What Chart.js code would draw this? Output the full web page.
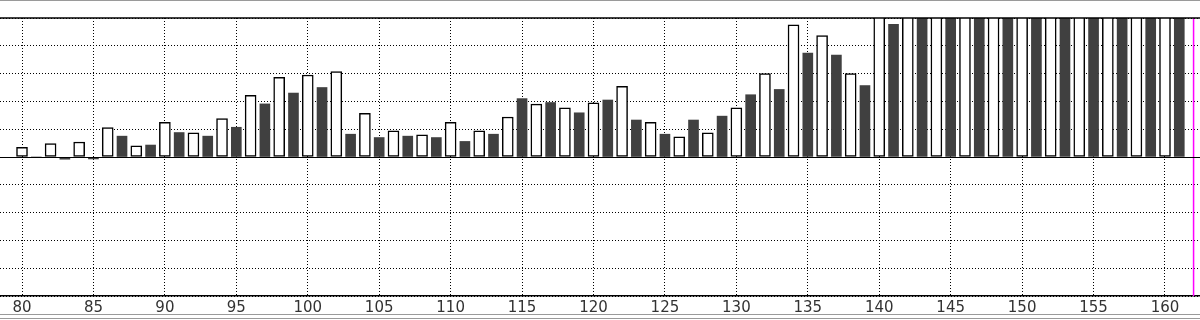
<!DOCTYPE html>
<html>
<head>
<meta charset="utf-8">
<script src="https://cdn.jsdelivr.net/npm/chart.js@4/dist/chart.umd.min.js"></script>
<style>
  body { margin: 0; background: #fff; }
  canvas { display: block; }
</style>
</head>
<body>
<canvas id="barChart" width="1200" height="320"></canvas>
<script>
// even days: white bars, odd days: dark bars
const whiteDays = [80, 82, 84, 86, 88, 90, 92, 94, 96, 98, 100, 102, 104, 106, 108, 110, 112, 114, 116, 118,
  120, 122, 124, 126, 128, 130, 132, 134, 136, 138, 140, 142, 144, 146, 148, 150, 152, 154, 156, 158, 160];
const whiteValues = [0.35, 0.48, 0.54, 1.06, 0.4, 1.25, 0.87, 1.38, 2.22, 2.87, 2.95, 3.07, 1.57, 0.94, 0.8, 1.25, 0.94, 1.44, 1.9, 1.77,
  1.95, 2.54, 1.25, 0.73, 0.87, 1.77, 3.0, 4.75, 4.37, 3.0, 5.5, 5.5, 5.5, 5.5, 5.5, 5.5, 5.5, 5.5, 5.5, 5.5, 5.5];

const darkDays = [81, 83, 85, 87, 89, 91, 93, 95, 97, 99, 101, 103, 105, 107, 109, 111, 113, 115, 117, 119,
  121, 123, 125, 127, 129, 131, 133, 135, 137, 139, 141, 143, 145, 147, 149, 151, 153, 155, 157, 159, 161];
const darkValues = [0, -0.08, -0.07, 0.75, 0.43, 0.88, 0.75, 1.07, 1.91, 2.3, 2.5, 0.82, 0.7, 0.75, 0.7, 0.56, 0.82, 2.1, 1.96, 1.59,
  2.05, 1.33, 0.82, 1.33, 1.47, 2.24, 2.43, 3.74, 3.67, 2.57, 4.77, 5.5, 5.5, 5.5, 5.5, 5.5, 5.5, 5.5, 5.5, 5.5, 5.5];

const xTicks = [80, 85, 90, 95, 100, 105, 110, 115, 120, 125, 130, 135, 140, 145, 150, 155, 160];
const markerDay = 162;

const toPoints = (xs, ys) => xs.map((x, i) => ({ x: x, y: ys[i] }));

// frame lines, zero line and top border
const framePlugin = {
  id: "frame",
  beforeDraw(chart) {
    const c = chart.ctx;
    c.save();
    c.strokeStyle = "#9a9a9a";
    c.lineWidth = 1;
    c.beginPath();
    c.moveTo(0, 0.5); c.lineTo(1200, 0.5);
    c.moveTo(0, 314.5); c.lineTo(1200, 314.5);
    c.moveTo(0, 318.5); c.lineTo(1200, 318.5);
    c.stroke();
    c.restore();
  },
  afterDatasetsDraw(chart) {
    const c = chart.ctx;
    const area = chart.chartArea;
    const y0 = Math.round(chart.scales.y.getPixelForValue(0)) + 0.5;
    c.save();
    c.strokeStyle = "#000";
    c.lineWidth = 1;
    c.beginPath();
    c.moveTo(area.left, y0); c.lineTo(area.right, y0);
    c.stroke();
    c.lineWidth = 1.5;
    c.beginPath();
    c.moveTo(area.left, area.top); c.lineTo(area.right, area.top);
    c.stroke();
    c.restore();
  },
};

const ctx = document.getElementById("barChart").getContext("2d");

new Chart(ctx, {
  type: "bar",
  data: {
    datasets: [
      {
        type: "line",
        data: [{ x: markerDay, y: -5 }, { x: markerDay, y: 5 }],
        borderColor: "#ff00ff",
        borderWidth: 1.5,
        pointRadius: 0,
      },
      {
        data: toPoints(whiteDays, whiteValues),
        backgroundColor: "#ffffff",
        borderColor: "#000000",
        borderWidth: 1.5,
        borderSkipped: false,
        barThickness: 11,
        grouped: false,
      },
      {
        data: toPoints(darkDays, darkValues),
        backgroundColor: "#404040",
        borderWidth: 0,
        barThickness: 10,
        grouped: false,
      },
    ],
  },
  options: {
    responsive: false,
    animation: false,
    plugins: {
      legend: { display: false },
      tooltip: { enabled: false },
    },
    layout: {
      padding: { top: 18, right: 0, bottom: 0, left: 0 },
    },
    scales: {
      x: {
        type: "linear",
        min: 78.46,
        max: 162.45,
        offset: false,
        afterBuildTicks: (scale) => {
          scale.ticks = xTicks.map((v) => ({ value: v }));
        },
        grid: {
          color: "#000",
          lineWidth: 1,
          offset: false,
          drawTicks: false,
        },
        border: { display: true, color: "#000", width: 1.5, dash: [1, 2] },
        ticks: {
          color: "#333",
          padding: 3,
          maxRotation: 0,
          autoSkip: false,
          font: { family: "DejaVu Sans", size: 15 },
        },
      },
      y: {
        min: -5,
        max: 5,
        ticks: { display: false, stepSize: 1 },
        grid: {
          color: "#000",
          lineWidth: 1,
          drawTicks: false,
        },
        border: { display: false, dash: [1, 2] },
      },
    },
  },
  plugins: [framePlugin],
});
</script>
</body>
</html>
